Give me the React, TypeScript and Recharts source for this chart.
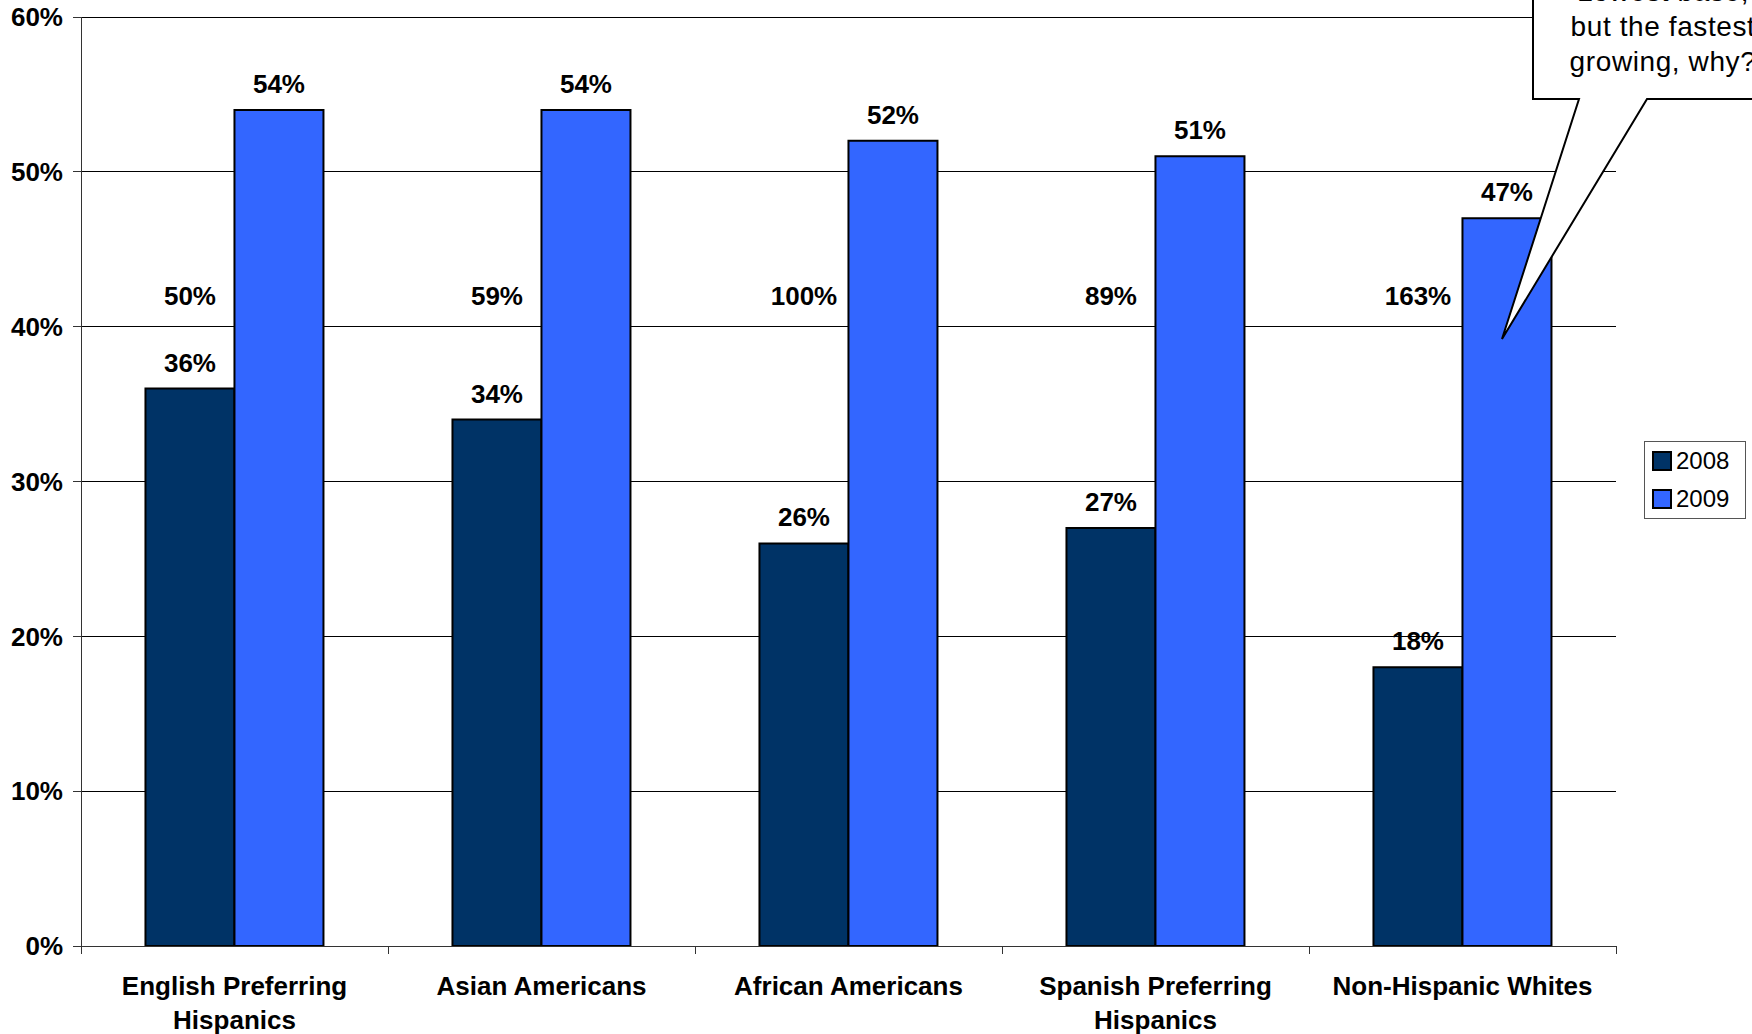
import React from "react";
import {
    BarChart,
    Bar,
    XAxis,
    YAxis,
    CartesianGrid,
    Legend,
    LabelList,
} from "recharts";

const categories = [
    "English Preferring Hispanics",
    "Asian Americans",
    "African Americans",
    "Spanish Preferring Hispanics",
    "Non-Hispanic Whites",
];
const share2008 = [36, 34, 26, 27, 18];
const share2009 = [54, 54, 52, 51, 47];
const growthPct = [50, 59, 100, 89, 163];
const yTicks = [0, 10, 20, 30, 40, 50, 60];
const calloutLines = ["Lowest base,", "but the fastest", "growing, why?"];

const data = categories.map((name, i) => ({
    name,
    y2008: share2008[i],
    y2009: share2009[i],
    growth: growthPct[i],
}));

const WIDTH = 1752;
const HEIGHT = 1034;
const MARGIN = { top: 17, right: 136, bottom: 0, left: 0 };
const Y_AXIS_WIDTH = 81;
const X_AXIS_HEIGHT = 88;
const BAND = (WIDTH - MARGIN.left - MARGIN.right - Y_AXIS_WIDTH) / categories.length;
// growth figures sit on one common level, in axis units
const GROWTH_LEVEL = 42;
const FONT = '"Liberation Sans", Arial, Helvetica, sans-serif';
const AXIS_COLOR = "#333";
const TICK_FONT_SIZE = 26;
const TICK_WRAP_WIDTH = 275;

const pct = (v: any) => `${v}%`;

let measureCtx: CanvasRenderingContext2D | null = null;
const textWidth = (s: string) => {
    if (!measureCtx) measureCtx = document.createElement("canvas").getContext("2d");
    if (!measureCtx) return s.length * TICK_FONT_SIZE * 0.6;
    measureCtx.font = `bold ${TICK_FONT_SIZE}px ${FONT}`;
    return measureCtx.measureText(s).width;
};

// greedy word wrap for the category names
const wrapLabel = (label: string, maxWidth: number) => {
    const lines: string[] = [];
    let current = "";
    label.split(" ").forEach((word) => {
        const next = current ? `${current} ${word}` : word;
        if (current && textWidth(next) > maxWidth) {
            lines.push(current);
            current = word;
        } else {
            current = next;
        }
    });
    if (current) lines.push(current);
    return lines;
};

const CategoryTick = (props: any) => {
    const { x, y, payload, index } = props;
    const half = BAND / 2;
    const lines = wrapLabel(String(payload.value), TICK_WRAP_WIDTH);
    return (
        <g>
            <line x1={x - half} x2={x - half} y1={y} y2={y + 8} stroke={AXIS_COLOR} shapeRendering="crispEdges" />
            {index === categories.length - 1 && (
                <line x1={x + half} x2={x + half} y1={y} y2={y + 8} stroke={AXIS_COLOR} shapeRendering="crispEdges" />
            )}
            <text
                x={x}
                y={y + 49}
                textAnchor="middle"
                fill="#000"
                fontFamily={FONT}
                fontSize={TICK_FONT_SIZE}
                fontWeight="bold"
            >
                {lines.map((line, i) => (
                    <tspan key={line} x={x} dy={i === 0 ? 0 : 34}>
                        {line}
                    </tspan>
                ))}
            </text>
        </g>
    );
};

const GrowthLabel = (props: any) => {
    const box = props.viewBox ?? props;
    const { x, y, width, height } = box;
    const base = share2008[props.index];
    if (!base || !height) return null;
    const unit = height / base;
    const cy = y + height - GROWTH_LEVEL * unit;
    return (
        <text
            x={x + width / 2}
            y={cy}
            dy="0.36em"
            textAnchor="middle"
            fill="#000"
            fontFamily={FONT}
            fontSize={26}
            fontWeight="bold"
        >
            {pct(props.value)}
        </text>
    );
};

const LegendBox = (props: any) => {
    const { payload } = props;
    return (
        <div
            style={{
                border: "1px solid #555",
                background: "#fff",
                width: 100,
                height: 76,
                fontFamily: FONT,
                fontSize: 24,
                color: "#000",
            }}
        >
            {(payload || []).map((entry: any) => (
                <div
                    key={entry.value}
                    style={{ display: "flex", alignItems: "center", height: 38 }}
                >
                    <span
                        style={{
                            display: "inline-block",
                            width: 16,
                            height: 16,
                            marginLeft: 7,
                            marginRight: 4,
                            background: entry.color,
                            border: "2px solid #000",
                        }}
                    />
                    <span>{entry.value}</span>
                </div>
            ))}
        </div>
    );
};

const Callout = () => (
    <svg
        width={WIDTH}
        height={HEIGHT}
        style={{ position: "absolute", left: 0, top: 0, pointerEvents: "none" }}
    >
        <path
            d="M1533,-10 L1533,99 L1579,99 L1502,339 L1647,99 L1800,99 L1800,-10 Z"
            fill="#fff"
            stroke="#000"
            strokeWidth={2}
        />
        {calloutLines.map((line, i) => (
            <text
                key={line}
                x={1663}
                y={1 + i * 35}
                textAnchor="middle"
                fontFamily={FONT}
                fontSize={28}
                letterSpacing={0.6}
                fill="#000"
            >
                {line}
            </text>
        ))}
    </svg>
);

export default function App() {
    return (
        <div style={{ position: "relative", width: WIDTH, height: HEIGHT, background: "#fff" }}>
            <style>{"body{margin:0;}"}</style>
            <BarChart
                width={WIDTH}
                height={HEIGHT}
                data={data}
                margin={MARGIN}
                barCategoryGap="21%"
                barGap={0}
            >
                <CartesianGrid vertical={false} stroke="#000" strokeWidth={1} shapeRendering="crispEdges" />
                <XAxis
                    dataKey="name"
                    height={X_AXIS_HEIGHT}
                    interval={0}
                    tickLine={false}
                    tickSize={0}
                    tickMargin={0}
                    axisLine={{ stroke: AXIS_COLOR, shapeRendering: "crispEdges" }}
                    tick={<CategoryTick />}
                />
                <YAxis
                    width={Y_AXIS_WIDTH}
                    domain={[0, 60]}
                    ticks={yTicks}
                    interval={0}
                    tickFormatter={pct}
                    tickSize={8}
                    tickMargin={10}
                    axisLine={{ stroke: AXIS_COLOR, shapeRendering: "crispEdges" }}
                    tickLine={{ stroke: AXIS_COLOR, shapeRendering: "crispEdges" }}
                    tick={{ fill: "#000", fontSize: 26, fontWeight: "bold", fontFamily: FONT }}
                />
                <Legend
                    layout="horizontal"
                    verticalAlign="middle"
                    align="center"
                    content={<LegendBox />}
                    wrapperStyle={{ left: 1644, top: 441, width: 102, height: 78 }}
                />
                <Bar
                    dataKey="y2008"
                    name="2008"
                    fill="#003366"
                    stroke="#000"
                    strokeWidth={2}
                    isAnimationActive={false}
                >
                    <LabelList
                        dataKey="y2008"
                        position="top"
                        offset={17}
                        formatter={pct}
                        fill="#000"
                        fontFamily={FONT}
                        fontSize={26}
                        fontWeight="bold"
                    />
                    <LabelList dataKey="growth" content={<GrowthLabel />} />
                </Bar>
                <Bar
                    dataKey="y2009"
                    name="2009"
                    fill="#3366FF"
                    stroke="#000"
                    strokeWidth={2}
                    isAnimationActive={false}
                >
                    <LabelList
                        dataKey="y2009"
                        position="top"
                        offset={17}
                        formatter={pct}
                        fill="#000"
                        fontFamily={FONT}
                        fontSize={26}
                        fontWeight="bold"
                    />
                </Bar>
            </BarChart>
            <Callout />
        </div>
    );
}
